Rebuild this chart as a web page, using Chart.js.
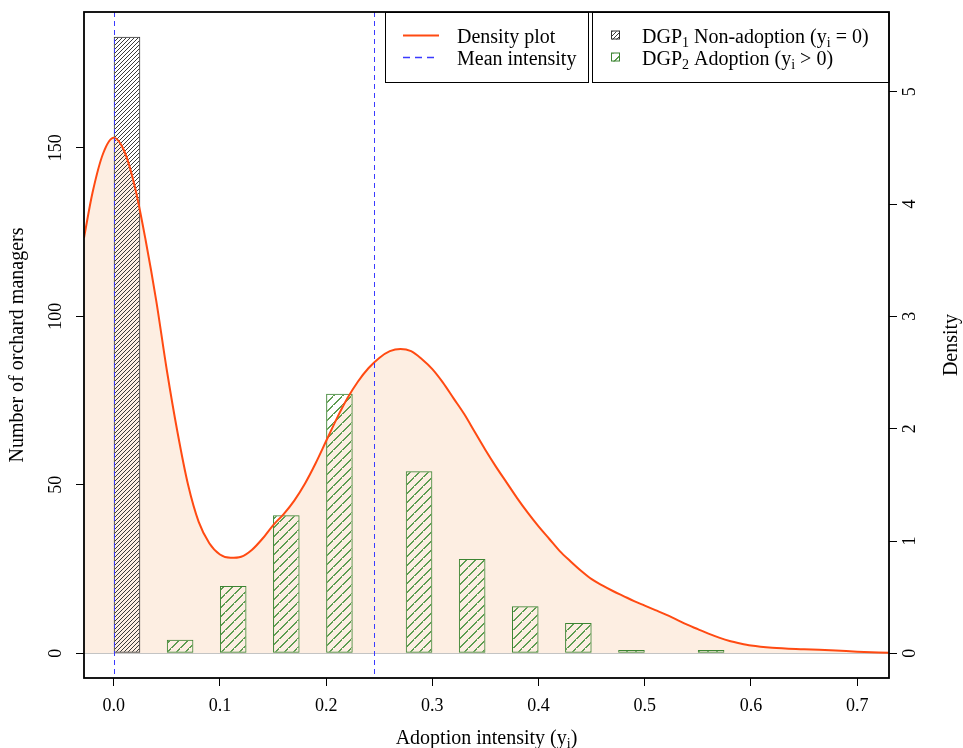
<!DOCTYPE html>
<html>
<head>
<meta charset="utf-8">
<script src="https://cdn.jsdelivr.net/npm/chart.js@4.4.0/dist/chart.umd.min.js"></script>
<style>
  html, body { margin: 0; padding: 0; background: #fff; }
</style>
</head>
<body>
<canvas id="chart" width="963" height="748"></canvas>
<script>
// tick labels
const xTicks = [0, 0.1, 0.2, 0.3, 0.4, 0.5, 0.6, 0.7];
const countTicks = [0, 50, 100, 150];
const densityTicks = [0, 1, 2, 3, 4, 5];

// histogram bins (left edge of each bar, count of managers)
const binWidth = 0.025;
const nonAdoptStart = [0];
const nonAdoptCount = [183];
const adoptStart = [0.05, 0.1, 0.15, 0.2, 0.275, 0.325, 0.375, 0.425, 0.475, 0.55];
const adoptCount = [4, 20, 41, 77, 54, 28, 14, 9, 1, 1];

// density curve
const densityX = [-0.028, -0.02, -0.01, 0, 0.01, 0.02, 0.03, 0.04, 0.05, 0.06, 0.07, 0.08, 0.09,
  0.10, 0.11, 0.12, 0.13, 0.14, 0.15, 0.16, 0.17, 0.18, 0.19, 0.20, 0.21, 0.22, 0.23, 0.24,
  0.25, 0.26, 0.27, 0.28, 0.29, 0.30, 0.31, 0.32, 0.33, 0.34, 0.35, 0.36, 0.37, 0.38, 0.39,
  0.40, 0.41, 0.42, 0.43, 0.44, 0.45, 0.46, 0.47, 0.48, 0.49, 0.50, 0.51, 0.52, 0.53, 0.54,
  0.55, 0.56, 0.57, 0.58, 0.59, 0.60, 0.62, 0.65, 0.68, 0.70, 0.73];
const densityY = [3.70, 4.10, 4.45, 4.59, 4.47, 4.15, 3.68, 3.14, 2.52, 1.97, 1.50, 1.17, 0.98,
  0.88, 0.85, 0.86, 0.92, 1.02, 1.14, 1.24, 1.36, 1.51, 1.69, 1.89, 2.09, 2.27, 2.42, 2.54,
  2.63, 2.69, 2.71, 2.69, 2.62, 2.53, 2.41, 2.27, 2.13, 1.97, 1.81, 1.66, 1.52, 1.38, 1.25,
  1.13, 1.02, 0.91, 0.82, 0.735, 0.66, 0.605, 0.555, 0.51, 0.465, 0.425, 0.385, 0.345, 0.30, 0.255,
  0.215, 0.175, 0.14, 0.11, 0.088, 0.07, 0.05, 0.036, 0.025, 0.015, 0.005];

const meanLines = [0, 0.2455];

const countMin = -7.32, countMax = 190.32;
const densityPerCount = 0.03;

const serif = "'Liberation Serif', 'Times New Roman', serif";
const curveColor = '#ff4a12';
const fillColor = '#fdeee2';
const blue = '#3a3aff';
const green = '#3c8432';

const canvas = document.getElementById('chart');
const ctx = canvas.getContext('2d');

// stair diagonal, tiled
function hatch(size, color, thick) {
	const t = document.createElement('canvas');
	t.width = size; t.height = size;
	const g = t.getContext('2d');
	g.fillStyle = color;
	for (let i = 0; i < size; i++) g.fillRect(i, size - 1 - i, thick, 1);
	if (thick > 1) g.fillRect(0, size - 1, 1, 1);
	return ctx.createPattern(t, 'repeat');
}
const blackHatch = hatch(4, '#3a3a3a', 1);
const greenHatch = hatch(9, '#5d9c50', 2);

function bars(starts, counts) {
	return starts.map((s, i) => ({ x: s + binWidth / 2, y: counts[i] }));
}

// draw text with subscripts: parts = [[text, isSub], ...]
function richText(c, parts, x, y, size, align) {
	const sub = Math.round(size * 0.7);
	let total = 0;
	parts.forEach(([t, s]) => {
		c.font = `${s ? sub : size}px ${serif}`;
		total += c.measureText(t).width;
	});
	let cx = align === 'center' ? x - total / 2 : x;
	c.textAlign = 'left';
	c.textBaseline = 'alphabetic';
	parts.forEach(([t, s]) => {
		c.font = `${s ? sub : size}px ${serif}`;
		c.fillText(t, cx, s ? y + size * 0.22 : y);
		cx += c.measureText(t).width;
	});
}

const decor = {
	id: 'decor',
	beforeDatasetsDraw(chart) {
		const { ctx: c, chartArea: a, scales: { y } } = chart;
		const y0 = Math.round(y.getPixelForValue(0)) + 0.5;
		c.save();
		c.strokeStyle = '#c4c4c4';
		c.lineWidth = 1;
		c.beginPath();
		c.moveTo(a.left, y0);
		c.lineTo(a.right, y0);
		c.stroke();
		c.restore();
	},
	afterDatasetsDraw(chart) {
		const { ctx: c, chartArea: a, scales: { x } } = chart;
		c.save();
		c.strokeStyle = blue;
		c.lineWidth = 1;
		c.setLineDash([5, 4]);
		meanLines.forEach(v => {
			const px = Math.round(x.getPixelForValue(v)) + 0.5;
			c.beginPath();
			c.moveTo(px, a.top);
			c.lineTo(px, a.bottom);
			c.stroke();
		});
		c.restore();
	},
	afterDraw(chart) {
		const { ctx: c, chartArea: a } = chart;
		c.save();
		// frame
		c.strokeStyle = '#000';
		c.lineWidth = 1.8;
		c.strokeRect(a.left, a.top, a.right - a.left, a.bottom - a.top);

		c.fillStyle = '#000';
		// x title
		richText(c, [['Adoption intensity (y', false], ['i', true], [')', false]],
			(a.left + a.right) / 2, 744, 20, 'center');
		// right title
		c.save();
		c.translate(952, (a.top + a.bottom) / 2);
		c.rotate(-Math.PI / 2);
		c.font = `20px ${serif}`;
		c.textAlign = 'center';
		c.textBaseline = 'middle';
		c.fillText('Density', 0, 0);
		c.restore();

		// legend boxes
		const top = a.top, bottom = 82;
		c.fillStyle = '#fff';
		c.fillRect(385, top + 1, 204, bottom - top - 1);
		c.fillRect(592, top + 1, a.right - 593, bottom - top - 1);
		c.strokeStyle = '#000';
		c.lineWidth = 1;
		c.strokeRect(385.5, top + 0.5, 203, bottom - top);
		c.strokeRect(592.5, top + 0.5, a.right - 592.5, bottom - top);

		const r1 = 35.5, r2 = 57.5;
		c.lineWidth = 2;
		c.strokeStyle = curveColor;
		c.beginPath(); c.moveTo(403, r1); c.lineTo(439, r1); c.stroke();
		c.lineWidth = 1.5;
		c.strokeStyle = blue;
		c.setLineDash([7, 5]);
		c.beginPath(); c.moveTo(403, r2); c.lineTo(439, r2); c.stroke();
		c.setLineDash([]);

		c.fillStyle = '#000';
		richText(c, [['Density plot', false]], 457, r1 + 7, 20, 'left');
		richText(c, [['Mean intensity', false]], 457, r2 + 7, 20, 'left');

		[[r1, blackHatch, '#333'], [r2, greenHatch, green]].forEach(([ry, pat, col]) => {
			c.fillStyle = pat;
			c.fillRect(612, ry - 4, 8, 8);
			c.strokeStyle = col;
			c.lineWidth = 1;
			c.strokeRect(611.5, ry - 4.5, 8, 8);
		});
		c.fillStyle = '#000';
		richText(c, [['DGP', false], ['1', true], [' Non-adoption (y', false], ['i', true], [' = 0)', false]],
			642, r1 + 7, 20, 'left');
		richText(c, [['DGP', false], ['2', true], [' Adoption (y', false], ['i', true], [' > 0)', false]],
			642, r2 + 7, 20, 'left');
		c.restore();
	}
};

const tickFont = { family: serif, size: 18 };

function fixV(width) {
	return s => { s.width = width; s.paddingTop = 0; s.paddingBottom = 0; };
}

new Chart(ctx, {
	type: 'bar',
	data: {
		datasets: [{
			type: 'line',
			label: 'Density plot',
			yAxisID: 'y1',
			data: densityX.map((x, i) => ({ x, y: densityY[i] })),
			borderColor: curveColor,
			borderWidth: 2,
			backgroundColor: fillColor,
			fill: 'origin',
			pointRadius: 0,
			cubicInterpolationMode: 'monotone',
			order: 0
		}, {
			label: 'DGP1 Non-adoption',
			yAxisID: 'y',
			data: bars(nonAdoptStart, nonAdoptCount),
			backgroundColor: blackHatch,
			borderColor: '#333',
			borderWidth: 1,
			borderSkipped: false,
			grouped: false,
			barPercentage: 0.5,
			categoryPercentage: 1,
			order: 2
		}, {
			label: 'DGP2 Adoption',
			yAxisID: 'y',
			data: bars(adoptStart, adoptCount),
			backgroundColor: greenHatch,
			borderColor: green,
			borderWidth: 1,
			borderSkipped: false,
			grouped: false,
			barPercentage: 0.5,
			categoryPercentage: 1,
			order: 1
		}]
	},
	options: {
		responsive: false,
		animation: false,
		layout: { padding: { top: 12, left: 0, right: 0, bottom: 0 } },
		plugins: {
			legend: { display: false },
			tooltip: { enabled: false },
			filler: { drawTime: 'beforeDatasetsDraw' }
		},
		scales: {
			x: {
				type: 'linear',
				min: -0.028,
				max: 0.730,
				offset: false,
				afterBuildTicks: s => { s.ticks = xTicks.map(v => ({ value: v })); },
				afterFit: s => { s.height = 70; s.paddingLeft = 0; s.paddingRight = 0; },
				border: { display: false },
				grid: { drawOnChartArea: false, offset: false, tickLength: 8, tickColor: '#000' },
				ticks: { color: '#000', font: tickFont, padding: 9, maxRotation: 0, autoSkip: false,
					callback: v => v.toFixed(1) }
			},
			y: {
				type: 'linear',
				position: 'left',
				min: countMin,
				max: countMax,
				afterBuildTicks: s => { s.ticks = countTicks.map(v => ({ value: v })); },
				afterFit: fixV(84),
				border: { display: false },
				grid: { drawOnChartArea: false, tickLength: 8, tickColor: '#000' },
				ticks: { color: '#000', font: tickFont, padding: 6, minRotation: 90, maxRotation: 90,
					crossAlign: 'center', autoSkip: false },
				title: { display: true, text: 'Number of orchard managers', color: '#000',
					font: { family: serif, size: 20 }, padding: { top: 6, bottom: 0 } }
			},
			y1: {
				type: 'linear',
				position: 'right',
				min: countMin * densityPerCount,
				max: countMax * densityPerCount,
				afterBuildTicks: s => { s.ticks = densityTicks.map(v => ({ value: v })); },
				afterFit: fixV(74),
				border: { display: false },
				grid: { drawOnChartArea: false, tickLength: 8, tickColor: '#000' },
				ticks: { color: '#000', font: tickFont, padding: 9, minRotation: 90, maxRotation: 90,
					crossAlign: 'center', autoSkip: false }
			}
		}
	},
	plugins: [decor]
});
</script>
</body>
</html>
